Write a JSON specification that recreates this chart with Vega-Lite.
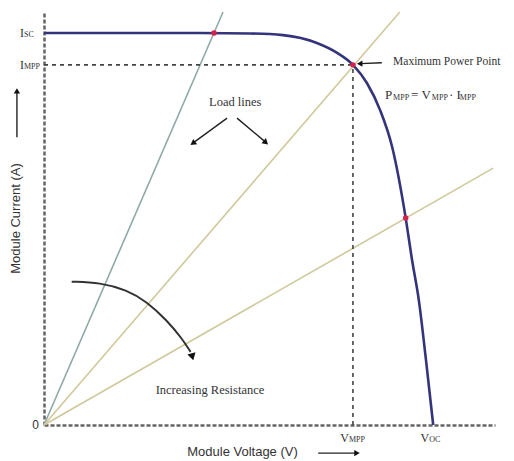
{
  "$schema": "https://vega.github.io/schema/vega-lite/v6.json",
  "width": 451,
  "height": 413,
  "autosize": {"type": "none"},
  "padding": {"left": 44, "top": 12, "right": 19, "bottom": 36},
  "background": "white",
  "config": {"view": {"stroke": null}},
  "datasets": {
    "curve": [
      {"v": 0, "i": 94.9}, {"v": 20, "i": 94.9}, {"v": 34.6, "i": 94.9}, {"v": 45.7, "i": 94.8},
      {"v": 53.0, "i": 94.4}, {"v": 60.5, "i": 92.5}, {"v": 65.0, "i": 90.1}, {"v": 68.5, "i": 87.2},
      {"v": 71.6, "i": 82.8}, {"v": 74.5, "i": 76.3}, {"v": 77.2, "i": 67.3}, {"v": 80.2, "i": 50.1},
      {"v": 81.6, "i": 40.0}, {"v": 83.1, "i": 30.3}, {"v": 84.7, "i": 15.7}, {"v": 86.3, "i": 0}
    ],
    "load": [
      {"line": "L1", "v": 0, "i": 0}, {"line": "L1", "v": 39.7, "i": 100},
      {"line": "L2", "v": 0, "i": 0}, {"line": "L2", "v": 78.9, "i": 100},
      {"line": "L3", "v": 0, "i": 0}, {"line": "L3", "v": 99.6, "i": 62.2}
    ],
    "dots": [
      {"v": 37.7, "i": 94.9}, {"v": 68.5, "i": 87.2}, {"v": 80.2, "i": 50.1}
    ],
    "guides": [
      {"g": "h", "v": 0, "i": 87.2}, {"g": "h", "v": 68.5, "i": 87.2},
      {"g": "v", "v": 68.5, "i": 0}, {"g": "v", "v": 68.5, "i": 87.2}
    ],
    "arrows": [
      {"a": "L", "v": 40.6, "i": 74.3}, {"a": "L", "v": 33.3, "i": 68.5},
      {"a": "R", "v": 42.8, "i": 74.3}, {"a": "R", "v": 48.8, "i": 68.8},
      {"a": "M", "v": 74.9, "i": 87.7}, {"a": "M", "v": 70.1, "i": 87.5},
      {"a": "Y", "v": -6, "i": 69.7}, {"a": "Y", "v": -6, "i": 80.6},
      {"a": "X", "v": 60.8, "i": -6.8}, {"a": "X", "v": 69.2, "i": -6.8}
    ],
    "arc": [
      {"v": 6.14, "i": 34.7}, {"v": 12.42, "i": 34.5}, {"v": 18.34, "i": 32.7}, {"v": 22.77, "i": 29.9},
      {"v": 27.2, "i": 25.4}, {"v": 30.5, "i": 21.1}, {"v": 32.5, "i": 17.7}
    ],
    "heads": [
      {"a": "L", "v": 33.0, "i": 68.2}, {"a": "R", "v": 49.2, "i": 68.4},
      {"a": "M", "v": 70.0, "i": 87.5}, {"a": "Y", "v": -6, "i": 80.9},
      {"a": "X", "v": 69.4, "i": -6.8}, {"a": "C", "v": 32.9, "i": 16.5}
    ],
    "ticklabels": [
      {"axis": "y", "v": 0, "i": 94.9, "main": "I", "sub": "SC"},
      {"axis": "y", "v": 0, "i": 87.2, "main": "I", "sub": "MPP"},
      {"axis": "o", "v": 0, "i": 0, "main": "0", "sub": ""},
      {"axis": "x", "v": 68.5, "i": 0, "main": "V", "sub": "MPP"},
      {"axis": "x", "v": 86.3, "i": 0, "main": "V", "sub": "OC"}
    ],
    "notes": [
      {"kind": "label", "v": 42.4, "i": 78.2, "text": "Load lines"},
      {"kind": "label", "v": 36.8, "i": 8.5, "text": "Increasing Resistance"},
      {"kind": "left", "v": 77.4, "i": 87.9, "text": "Maximum Power Point"}
    ],
    "formula": [
      {"kind": "main", "v": 75.6, "i": 79.9, "text": "P"},
      {"kind": "sub", "v": 77.4, "i": 79.9, "text": "MPP"},
      {"kind": "main", "v": 81.4, "i": 79.9, "text": "= V"},
      {"kind": "sub", "v": 86.0, "i": 79.9, "text": "MPP"},
      {"kind": "main", "v": 89.8, "i": 79.9, "text": "· I"},
      {"kind": "sub", "v": 92.2, "i": 79.9, "text": "MPP"}
    ]
  },
  "encoding": {
    "x": {"field": "v", "type": "quantitative", "scale": {"domain": [0, 100], "nice": false, "zero": false}},
    "y": {"field": "i", "type": "quantitative", "scale": {"domain": [0, 100], "nice": false, "zero": false}}
  },
  "layer": [
    {
      "data": {"name": "curve"},
      "mark": {"type": "line", "color": "#34347c", "strokeWidth": 2.6, "interpolate": "monotone"},
      "encoding": {
        "x": {"field": "v", "type": "quantitative", "scale": {"domain": [0, 100], "nice": false},
          "axis": {"title": "Module Voltage (V)", "labels": false, "ticks": false, "grid": false,
            "domainColor": "#666", "domainWidth": 2.5, "domainDash": [4, 2],
            "titleFont": "Liberation Sans", "titleFontSize": 13, "titleFontWeight": "normal",
            "titleColor": "#333", "titlePadding": 20, "titleX": 198}},
        "y": {"field": "i", "type": "quantitative", "scale": {"domain": [0, 100], "nice": false},
          "axis": {"title": "Module Current (A)", "labels": false, "ticks": false, "grid": false,
            "domainColor": "#666", "domainWidth": 2.5, "domainDash": [4, 2],
            "titleFont": "Liberation Sans", "titleFontSize": 13, "titleFontWeight": "normal",
            "titleColor": "#333", "titlePadding": 22, "titleY": 206}}
      }
    },
    {
      "data": {"name": "load"},
      "mark": {"type": "line", "strokeWidth": 1.6},
      "encoding": {
        "detail": {"field": "line"},
        "color": {"field": "line", "type": "nominal", "legend": null,
          "scale": {"domain": ["L1", "L2", "L3"], "range": ["#8eaaa8", "#cfc99b", "#cfc99b"]}}
      }
    },
    {
      "data": {"name": "guides"},
      "mark": {"type": "line", "color": "#444", "strokeWidth": 1.6, "strokeDash": [4, 4]},
      "encoding": {"detail": {"field": "g"}}
    },
    {
      "data": {"name": "dots"},
      "mark": {"type": "point", "filled": true, "color": "#d4204c", "size": 30, "opacity": 1}
    },
    {
      "data": {"name": "arrows"},
      "mark": {"type": "line", "color": "#222", "strokeWidth": 1.4},
      "encoding": {"detail": {"field": "a"}}
    },
    {
      "data": {"name": "arc"},
      "mark": {"type": "line", "color": "#333", "strokeWidth": 2, "interpolate": "basis"}
    },
    {
      "data": {"name": "heads"},
      "transform": [{"filter": "datum.a === 'L'"}],
      "mark": {"type": "point", "shape": "triangle-up", "filled": true, "color": "#111", "size": 45, "angle": 234, "opacity": 1}
    },
    {
      "data": {"name": "heads"},
      "transform": [{"filter": "datum.a === 'R'"}],
      "mark": {"type": "point", "shape": "triangle-up", "filled": true, "color": "#111", "size": 45, "angle": 131, "opacity": 1}
    },
    {
      "data": {"name": "heads"},
      "transform": [{"filter": "datum.a === 'M'"}],
      "mark": {"type": "point", "shape": "triangle-up", "filled": true, "color": "#111", "size": 40, "angle": 270, "opacity": 1}
    },
    {
      "data": {"name": "heads"},
      "transform": [{"filter": "datum.a === 'Y'"}],
      "mark": {"type": "point", "shape": "triangle-up", "filled": true, "color": "#111", "size": 40, "angle": 0, "opacity": 1}
    },
    {
      "data": {"name": "heads"},
      "transform": [{"filter": "datum.a === 'X'"}],
      "mark": {"type": "point", "shape": "triangle-up", "filled": true, "color": "#111", "size": 40, "angle": 90, "opacity": 1}
    },
    {
      "data": {"name": "heads"},
      "transform": [{"filter": "datum.a === 'C'"}],
      "mark": {"type": "point", "shape": "triangle-up", "filled": true, "color": "#111", "size": 70, "angle": 165, "opacity": 1}
    },
    {
      "data": {"name": "ticklabels"},
      "transform": [{"filter": "datum.axis === 'y'"}],
      "mark": {"type": "text", "font": "Liberation Serif", "fontSize": 12, "color": "#333", "align": "right", "baseline": "middle", "dx": -20},
      "encoding": {"text": {"field": "main"}}
    },
    {
      "data": {"name": "ticklabels"},
      "transform": [{"filter": "datum.axis === 'y'"}],
      "mark": {"type": "text", "font": "Liberation Serif", "fontSize": 8, "color": "#333", "align": "left", "baseline": "middle", "dx": -20, "dy": 2},
      "encoding": {"text": {"field": "sub"}}
    },
    {
      "data": {"name": "ticklabels"},
      "transform": [{"filter": "datum.axis === 'o'"}],
      "mark": {"type": "text", "font": "Liberation Sans", "fontSize": 12, "color": "#333", "align": "right", "baseline": "middle", "dx": -5},
      "encoding": {"text": {"field": "main"}}
    },
    {
      "data": {"name": "ticklabels"},
      "transform": [{"filter": "datum.axis === 'x'"}],
      "mark": {"type": "text", "font": "Liberation Serif", "fontSize": 12, "color": "#333", "align": "right", "baseline": "middle", "dx": -4, "dy": 13},
      "encoding": {"text": {"field": "main"}}
    },
    {
      "data": {"name": "ticklabels"},
      "transform": [{"filter": "datum.axis === 'x'"}],
      "mark": {"type": "text", "font": "Liberation Serif", "fontSize": 8, "color": "#333", "align": "left", "baseline": "middle", "dx": -4, "dy": 15},
      "encoding": {"text": {"field": "sub"}}
    },
    {
      "data": {"name": "notes"},
      "transform": [{"filter": "datum.kind === 'label'"}],
      "mark": {"type": "text", "font": "Liberation Serif", "fontSize": 12.5, "color": "#333", "align": "center", "baseline": "middle"},
      "encoding": {"text": {"field": "text"}}
    },
    {
      "data": {"name": "notes"},
      "transform": [{"filter": "datum.kind === 'left'"}],
      "mark": {"type": "text", "font": "Liberation Serif", "fontSize": 11.5, "color": "#333", "align": "left", "baseline": "middle"},
      "encoding": {"text": {"field": "text"}}
    },
    {
      "data": {"name": "formula"},
      "transform": [{"filter": "datum.kind === 'main'"}],
      "mark": {"type": "text", "font": "Liberation Serif", "fontSize": 13, "color": "#333", "align": "left", "baseline": "middle"},
      "encoding": {"text": {"field": "text"}}
    },
    {
      "data": {"name": "formula"},
      "transform": [{"filter": "datum.kind === 'sub'"}],
      "mark": {"type": "text", "font": "Liberation Serif", "fontSize": 8, "color": "#333", "align": "left", "baseline": "middle", "dy": 3},
      "encoding": {"text": {"field": "text"}}
    }
  ]
}
